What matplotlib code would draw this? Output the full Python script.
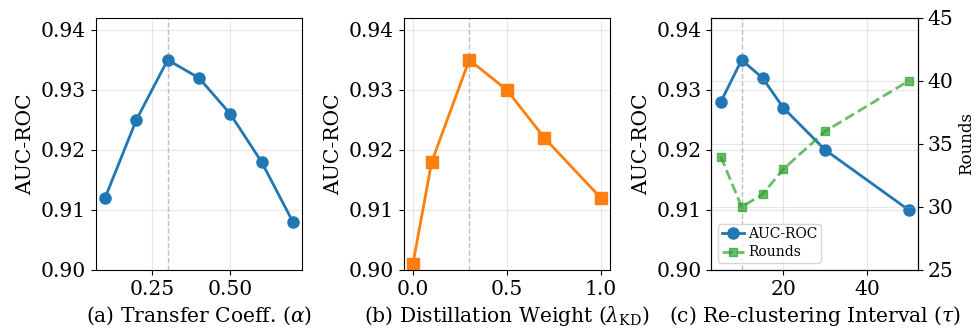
import numpy as np
import matplotlib.pyplot as plt

# data
alpha_vals = [0.1, 0.2, 0.3, 0.4, 0.5, 0.6, 0.7]
alpha_auc = [0.912, 0.925, 0.935, 0.932, 0.926, 0.918, 0.908]

kd_vals = [0.0, 0.1, 0.3, 0.5, 0.7, 1.0]
kd_auc = [0.901, 0.918, 0.935, 0.930, 0.922, 0.912]

tau_vals = [5, 10, 15, 20, 30, 50]
tau_auc = [0.928, 0.935, 0.932, 0.927, 0.920, 0.910]
tau_rounds = [34, 30, 31, 33, 36, 40]

best = [0.3, 0.3, 10]

plt.rcParams['font.family'] = 'DejaVu Serif'
plt.rcParams['mathtext.fontset'] = 'dejavuserif'
fs = 14.6

fig, axs = plt.subplots(1, 3, figsize=(9.76, 3.32), dpi=100)
fig.subplots_adjust(left=0.098, right=0.9406, top=0.946, bottom=0.187, wspace=0.49)

axs[0].plot(alpha_vals, alpha_auc, 'o-', color='#1f77b4', lw=2, ms=8)
axs[0].set_xlabel(r'(a) Transfer Coeff. ($\alpha$)', fontsize=fs)

axs[1].plot(kd_vals, kd_auc, 's-', color='#ff7f0e', lw=2, ms=8)
axs[1].set_xlabel(r'(b) Distillation Weight ($\lambda_{\mathrm{KD}}$)', fontsize=fs)

l1, = axs[2].plot(tau_vals, tau_auc, 'o-', color='#1f77b4', lw=2, ms=8, label='AUC-ROC')
axs[2].set_xlabel(r'(c) Re-clustering Interval ($\tau$)', fontsize=fs)
ax2 = axs[2].twinx()
l2, = ax2.plot(tau_vals, tau_rounds, 's--', color='#2ca02c', alpha=0.7, lw=2, ms=6, label='Rounds')
ax2.set_ylim(25, 45)
ax2.set_yticks([25, 30, 35, 40, 45])
ax2.tick_params(labelsize=fs)
ax2.set_ylabel('Rounds', fontsize=12, labelpad=3.5)
ax2.grid(alpha=0.3)
axs[2].legend([l1, l2], ['AUC-ROC', 'Rounds'], loc='lower left', fontsize=10,
              handlelength=1.6, handletextpad=0.3, borderpad=0.25, labelspacing=0.3)

for ax, b in zip(axs, best):
    ax.axvline(b, color='gray', ls='--', lw=1, alpha=0.5)
    ax.set_ylim(0.90, 0.942)
    ax.set_yticks([0.90, 0.91, 0.92, 0.93, 0.94])
    ax.set_ylabel('AUC-ROC', fontsize=fs)
    ax.tick_params(labelsize=fs)
    ax.grid(alpha=0.3)

axs[0].set_xticks([0.25, 0.50])

plt.savefig('out.png', dpi=100)
